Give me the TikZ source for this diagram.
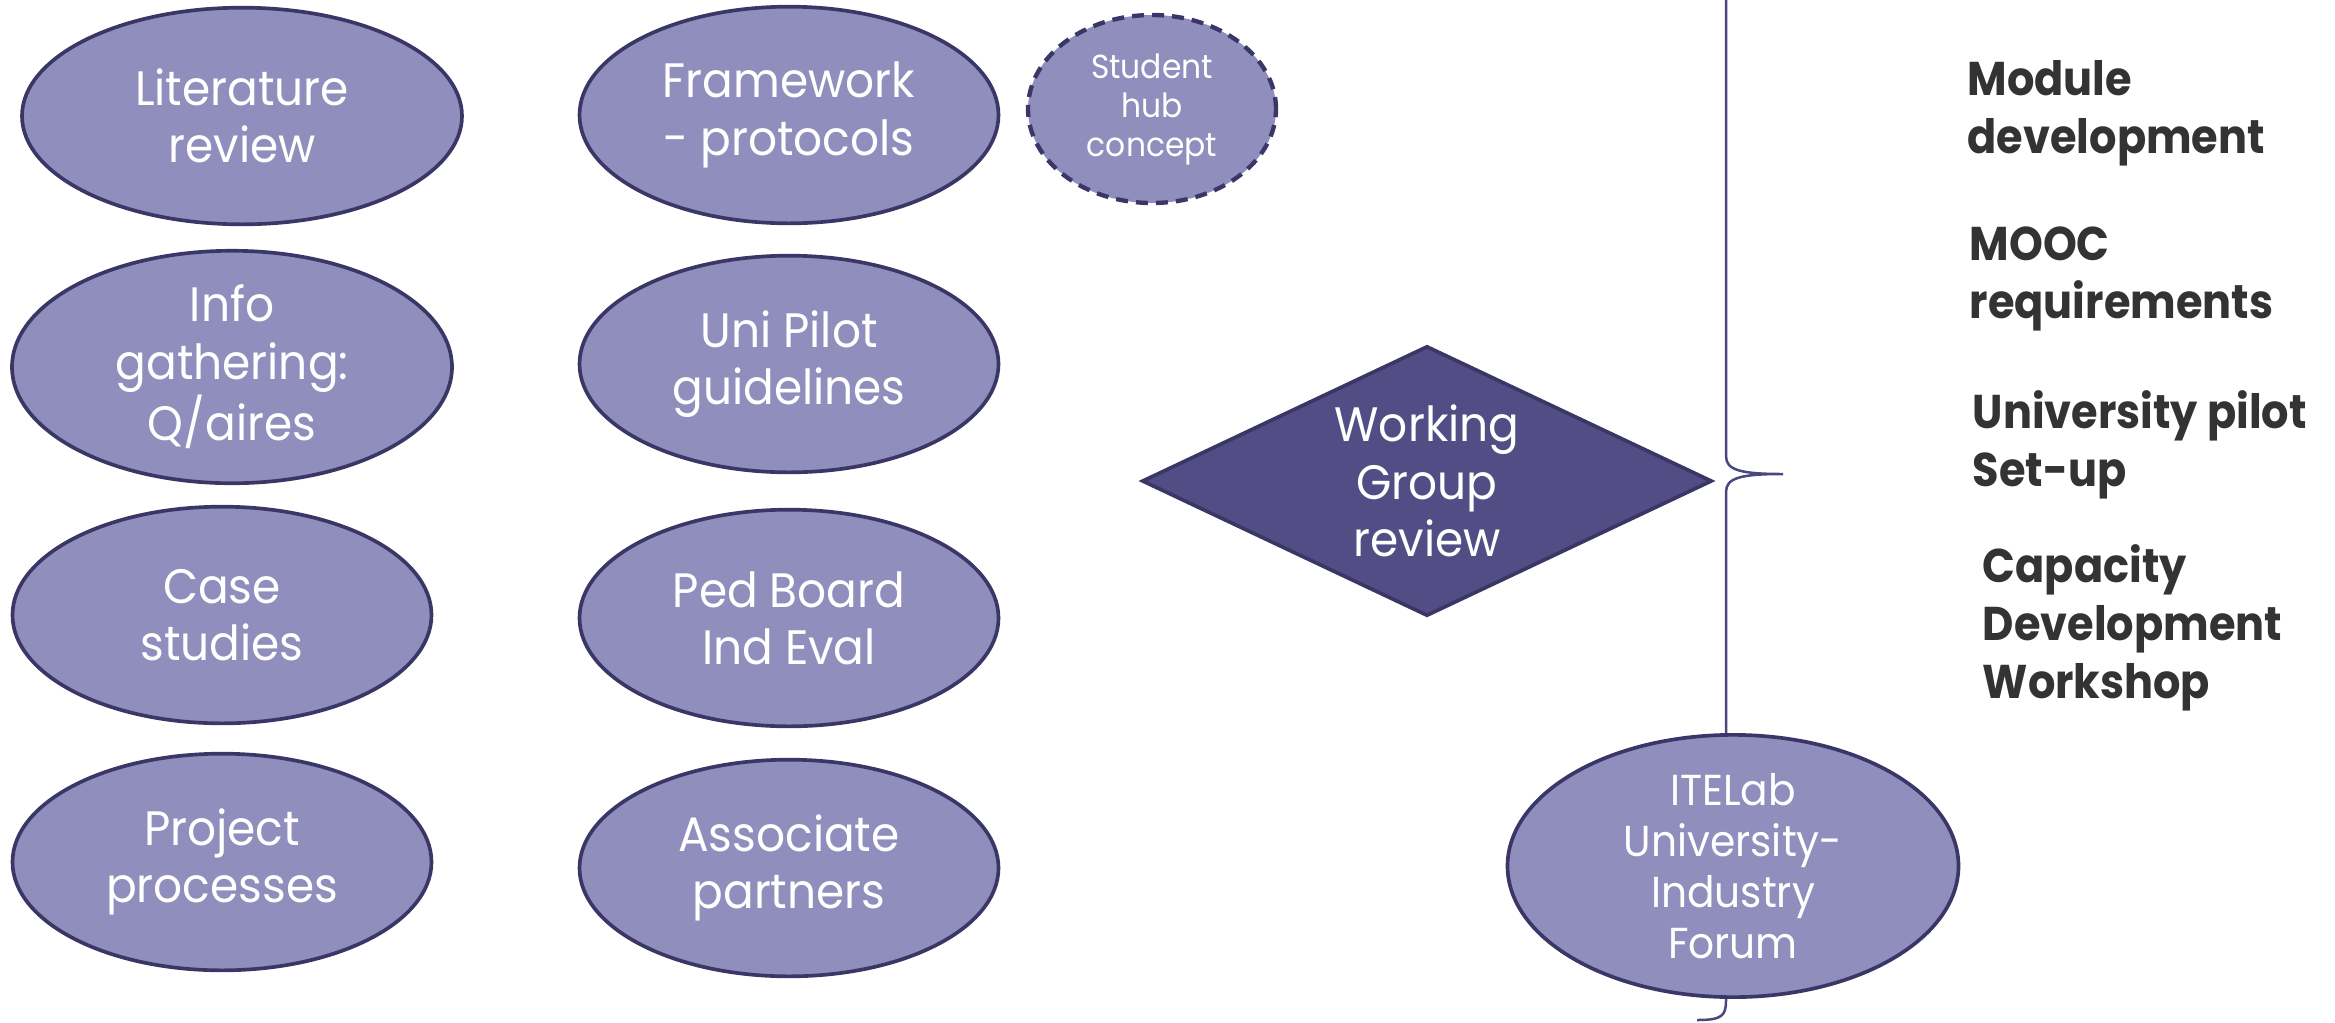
\documentclass[tikz,border=0pt]{standalone}
\usepackage{fontspec}
\setmainfont{Poppins}[FakeStretch=0.94]
\newfontfamily\rightfont{Poppins}[FakeStretch=0.91]
\usetikzlibrary{shapes.geometric}
\definecolor{lav}{HTML}{908EBD}
\definecolor{lavline}{HTML}{3A3666}
\definecolor{dia}{HTML}{524E85}
\definecolor{bracec}{HTML}{4A4680}
\definecolor{txt}{HTML}{333333}
\begin{document}
\begin{tikzpicture}[x=0.3pt,y=-0.3pt,
  bub/.style={ellipse, draw=lavline, line width=1.1pt, fill=lav, text=white,
    inner sep=0pt, align=center, font=\fontsize{14.5}{17.2}\selectfont},
  wide/.style={bub, minimum width=132pt, minimum height=65pt},
  narrow/.style={bub, minimum width=125.7pt, minimum height=65pt},
  hub/.style={bub, dashed, dash pattern=on 3.6pt off 2.4pt, line width=1.3pt,
    minimum width=74.4pt, minimum height=56.4pt, font=\fontsize{10}{11.7}\selectfont},
  review/.style={diamond, draw=lavline, line width=1.1pt, fill=dia, text=white,
    inner sep=0pt, aspect=2.1, minimum width=171pt, minimum height=81pt,
    align=center, font=\fontsize{14.5}{17.2}\selectfont},
  forum/.style={bub, minimum width=135.3pt, minimum height=71.7pt,
    font=\fontsize{13}{15.3}\selectfont},
  item/.style={anchor=base west, inner sep=0pt, align=left, text=txt,
    font=\rightfont\bfseries\fontsize{14.2}{17.4}\selectfont},
]
\useasboundingbox (0,0) rectangle (2335,1022);
\clip (0,0) rectangle (2335,1022);

% brace
\coordinate (btip) at (1783,474);
\coordinate (bbot) at (1697,1020);
\coordinate (btop) at (1697,-72);
\draw[bracec, line width=0.75pt]
  (bbot) .. controls (1722,1020) and (1726,1016) .. (1726,1000)
  -- (1726,492) .. controls (1726,478) and (1740,474) .. (btip)
  .. controls (1740,474) and (1726,470) .. (1726,456)
  -- (1726,-52) .. controls (1726,-68) and (1722,-72) .. (btop);

% left column
\node[wide]   (lit)  at (242,116) {Literature\\review};
\node[wide]   (info) at (232,367) {Info\\gathering:\\Q/aires};
\node[narrow] (case) at (222,615) {Case\\studies};
\node[narrow] (proj) at (222,862) {Project\\processes};

% middle column
\node[narrow] (frame) at (789,115) {Framework\\- protocols};
\node[narrow] (uni)   at (789,364) {Uni Pilot\\guidelines};
\node[narrow] (ped)   at (789,618) {Ped Board\\Ind Eval};
\node[narrow] (assoc) at (789,868) {Associate\\partners};
\node[hub]    (hub)   at (1152,109) {Student\\hub\\concept};

% review diamond
\node[review] (wg) at (1427,481) {Working\\Group\\review};

% forum
\node[forum] (itel) at (1733,866) {ITELab\\University-\\Industry\\Forum};

% right list (anchor at baseline of last line)
\node[item] (mod)  at (1967,153) {Module\\development};
\node[item] (mooc) at (1969,318) {MOOC\\requirements};
\node[item] (pil)  at (1972,486) {University pilot\\Set-up};
\node[item] (cap)  at (1982,698) {Capacity\\Development\\Workshop};
\end{tikzpicture}
\end{document}
